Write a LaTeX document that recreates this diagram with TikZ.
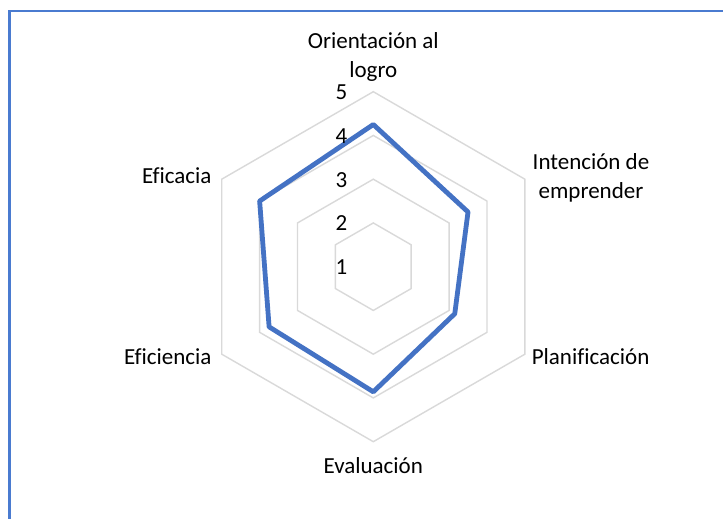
\documentclass[tikz,border=0pt]{standalone}
\usepackage{fontspec}
\setmainfont[Ligatures=NoCommon]{Carlito}
\definecolor{seriesblue}{HTML}{4472C4}
\definecolor{framebl}{HTML}{4A7BD0}
\definecolor{gridgray}{HTML}{D9D9D9}
\begin{document}
\begin{tikzpicture}[x=1pt,y=1pt,
  lbl/.style={inner sep=0pt,font=\fontsize{23}{29}\selectfont,text=black},
  gridline/.style={draw=gridgray,line width=1.4pt,line join=miter},
  series/.style={draw=seriesblue,line width=4.8pt,line join=round}]
\useasboundingbox (0,0) rectangle (723,519);
\fill[white] (0,0) rectangle (723,519);
% frame (left and top edges visible)
\draw[framebl,line width=2.6pt] (9.5,0) -- (9.5,508) -- (723,508);
\begin{scope}[shift={(373.3,252.3)}]
  % grid hexagons for values 2..5
  \foreach \k in {1,2,3,4}{
    \draw[gridline] (90:\k*43.75) -- (30:\k*43.75) -- (-30:\k*43.75) -- (-90:\k*43.75) -- (-150:\k*43.75) -- (150:\k*43.75) -- cycle;
  }
  % data points
  \coordinate (pO) at (90:3.25*43.75);
  \coordinate (pI) at (30:2.5*43.75);
  \coordinate (pP) at (-30:2.15*43.75);
  \coordinate (pE) at (-90:2.86*43.75);
  \coordinate (pF) at (-150:2.75*43.75);
  \coordinate (pC) at (150:3.0*43.75);
  \draw[series] (pO) -- (pI) -- (pP) -- (pE) -- (pF) -- (pC) -- cycle;
\end{scope}
% axis value labels
\foreach \v in {1,...,5}{
  \node[lbl,anchor=base east] (v\v) at (347.5,{244.3+(\v-1)*43.75}) {\v};
}
% category labels
\node[lbl,anchor=base,align=center] (lO) at (373.3,441.7) {Orientación al\\logro};
\node[lbl,anchor=base,align=center] (lI) at (591,320.7) {Intención de\\emprender};
\node[lbl,anchor=base west] (lP) at (531.6,154) {Planificación};
\node[lbl,anchor=base] (lE) at (373.3,45.7) {Evaluación};
\node[lbl,anchor=base east] (lF) at (211.7,154) {Eficiencia};
\node[lbl,anchor=base east] (lC) at (211.7,335.7) {Eficacia};
\end{tikzpicture}
\end{document}
